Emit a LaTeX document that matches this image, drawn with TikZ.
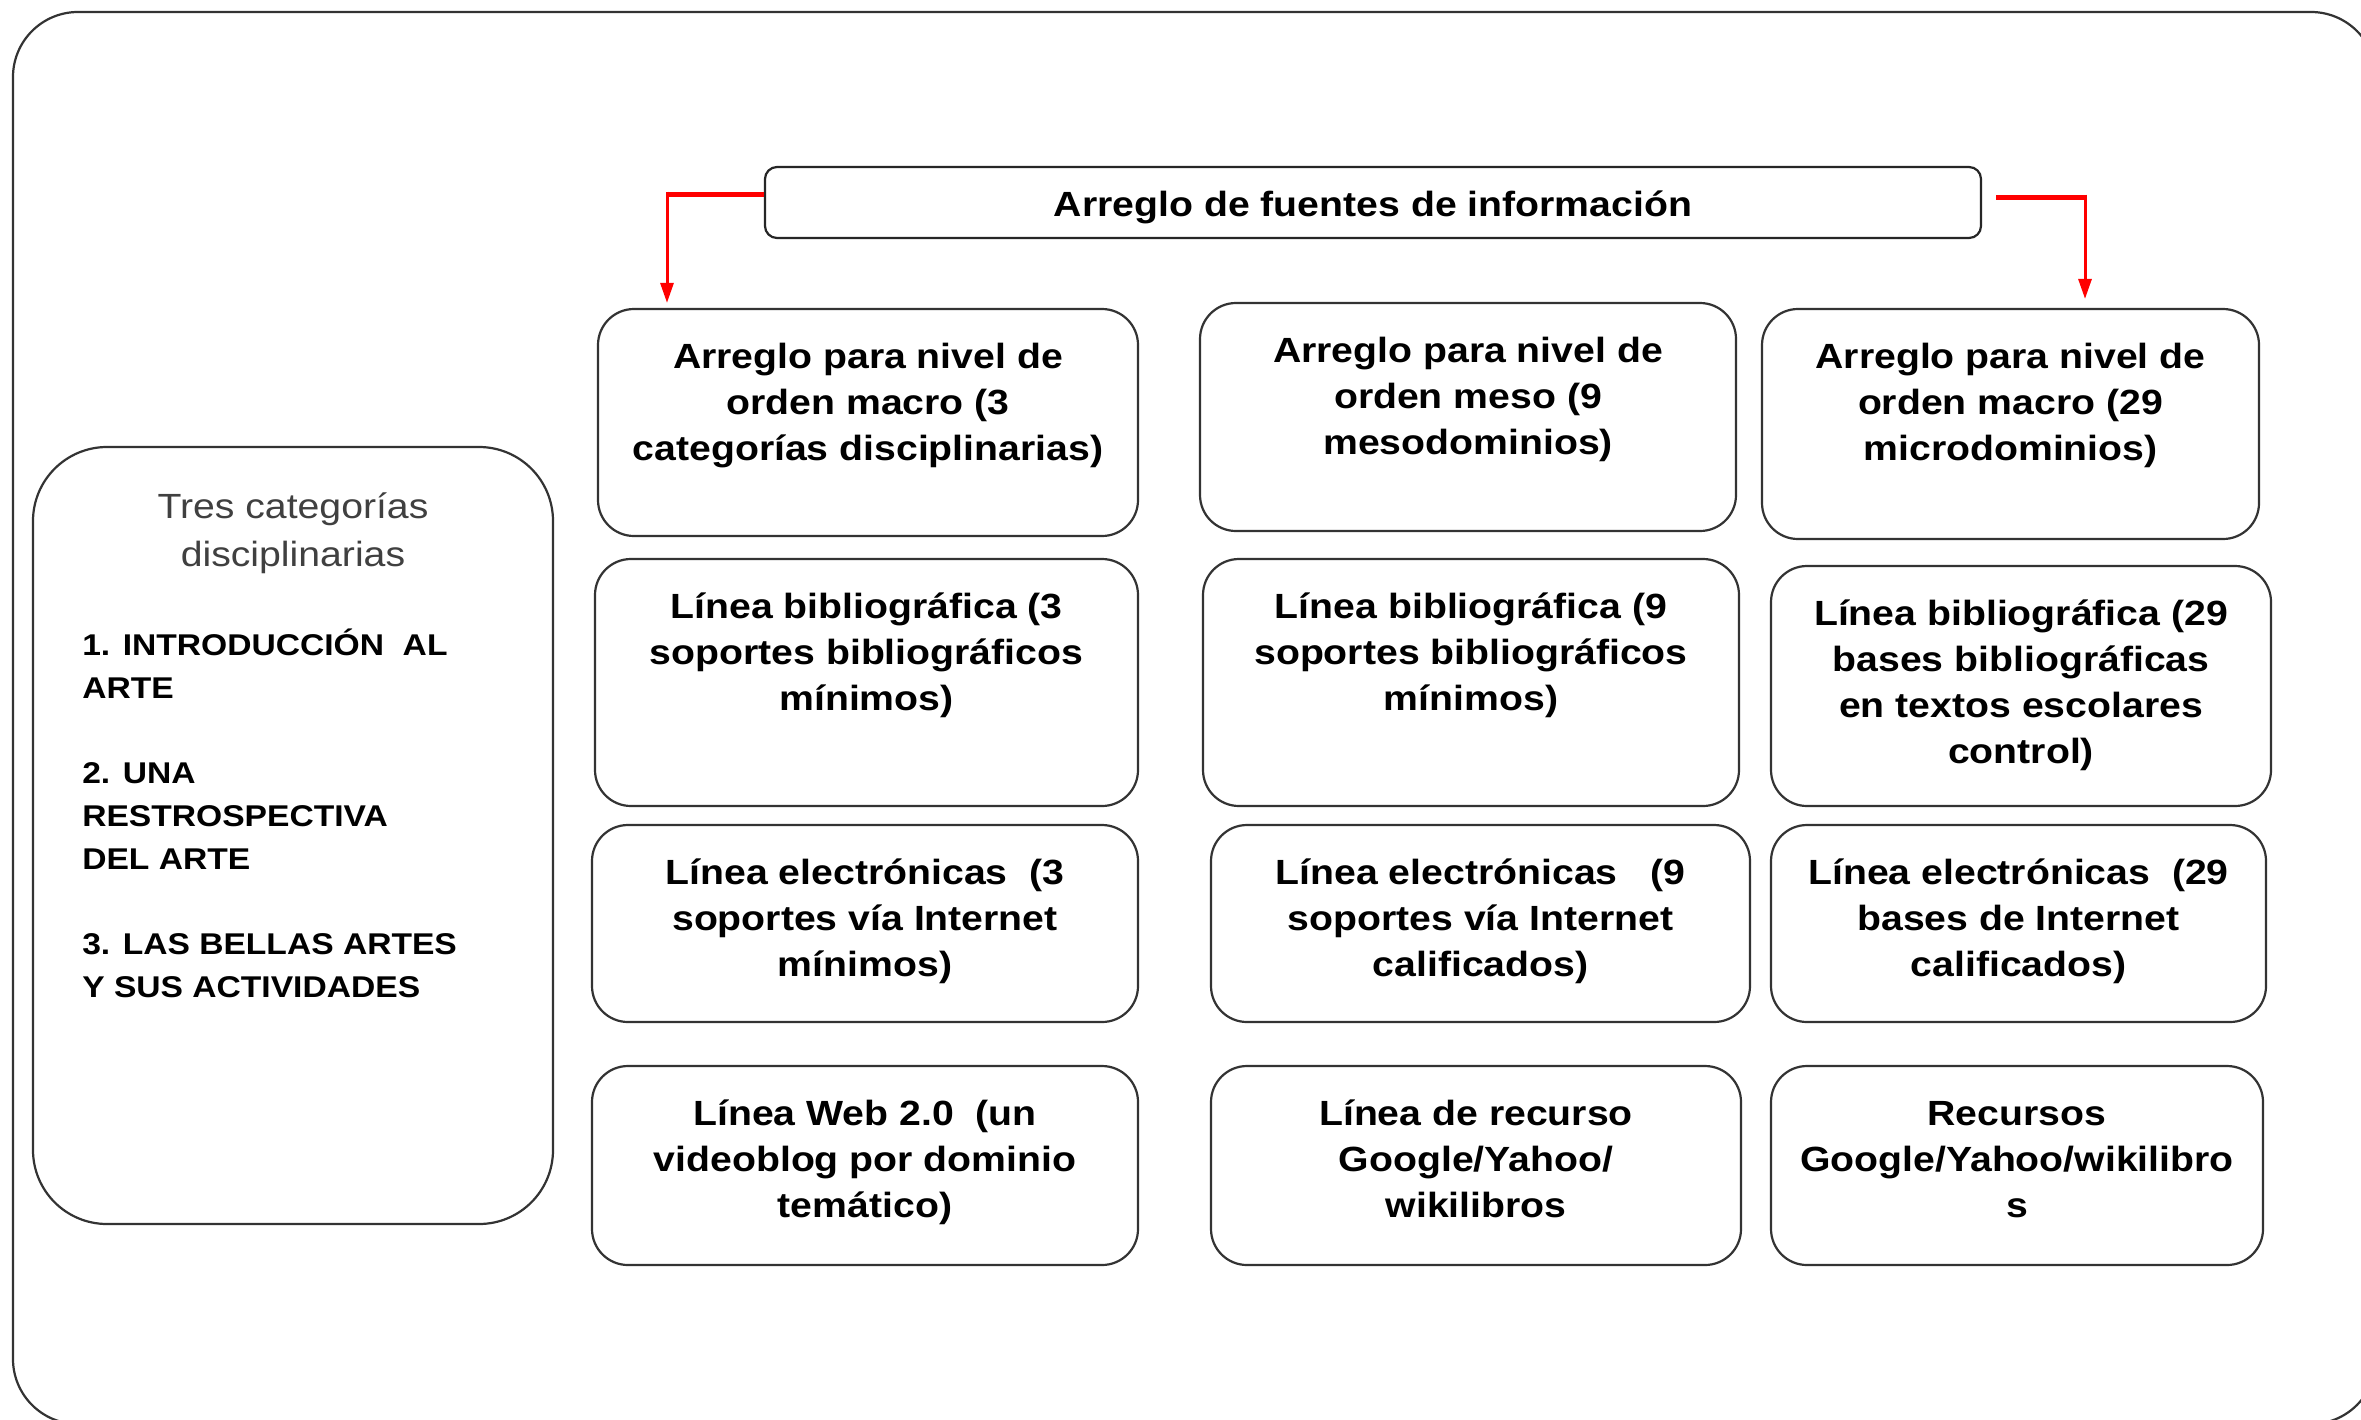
\documentclass[tikz,border=0pt]{standalone}
\usepackage{fontspec}
\setmainfont{Liberation Sans}[FakeStretch=1.12]
\usetikzlibrary{arrows.meta}
\tikzset{
  box/.style={draw=black!80, line width=1.1pt, rounded corners=18pt, inner sep=0pt, fill=white},
  boxtext/.style={font=\fontsize{17.5}{23}\selectfont\bfseries, align=center, anchor=north, inner sep=0pt},
  redline/.style={draw=red, line width=2.5pt},
  redarrow/.style={draw=red, line width=1.5pt, -{Triangle[length=10pt,width=6.5pt]}},
}
\newcommand{\fl}{\rule{0pt}{16pt}}
\begin{document}
\begin{tikzpicture}[x=0.5pt,y=-0.5pt]
\clip (0,0) rectangle (2361,1419);
\fill[white] (0,0) rectangle (2361,1419);
% outer frame
\draw[draw=black!80, line width=1.1pt, rounded corners=32.5pt] (13,12) rectangle (2376,1424);

% title
\node[draw=black!85, line width=1.1pt, rounded corners=6pt, inner sep=0pt,
      minimum width=608pt, minimum height=35.5pt, text height=18pt, text depth=3.7pt,
      font=\fontsize{17.5}{22.3}\selectfont\bfseries] (title) at (1373,202.5) {Arreglo de fuentes de información};

% left box
\node[box, rounded corners=37pt, minimum width=260pt, minimum height=388.5pt] (left) at (293,835.5) {};
\node[font=\fontsize{17.5}{24}\selectfont, text=black!75, align=center, anchor=north, inner sep=0pt]
  (lefthead) at ([yshift=-19.9pt]left.north) {\fl Tres categorías\\disciplinarias};
\node[font=\fontsize{15}{21.4}\selectfont\bfseries, align=left, anchor=north west, inner sep=0pt]
  (leftlist) at ([xshift=25pt,yshift=-88.5pt]left.north west)
  {\fl 1. INTRODUCCIÓN\ \ AL\\ARTE\\[21.4pt]2. UNA\\RESTROSPECTIVA\\DEL ARTE\\[21.4pt]3. LAS BELLAS ARTES\\Y SUS ACTIVIDADES};

% column 1
\node[box, minimum width=270pt, minimum height=113.5pt] (b11) at (868,422.5) {};
\node[box, minimum width=271.5pt, minimum height=123.5pt] (b12) at (866.5,682.5) {};
\node[box, minimum width=273pt, minimum height=98.5pt] (b13) at (865,923.5) {};
\node[box, minimum width=273pt, minimum height=99.5pt] (b14) at (865,1165.5) {};
% column 2
\node[box, minimum width=268pt, minimum height=114pt] (b21) at (1468,417) {};
\node[box, minimum width=268pt, minimum height=123.5pt] (b22) at (1471,682.5) {};
\node[box, minimum width=269.5pt, minimum height=98.5pt] (b23) at (1480.5,923.5) {};
\node[box, minimum width=265pt, minimum height=99.5pt] (b24) at (1476,1165.5) {};
% column 3
\node[box, minimum width=248.5pt, minimum height=115pt] (b31) at (2010.5,424) {};
\node[box, minimum width=250pt, minimum height=120pt] (b32) at (2021,686) {};
\node[box, minimum width=247.5pt, minimum height=98.5pt] (b33) at (2018.5,923.5) {};
\node[box, minimum width=246pt, minimum height=99.5pt] (b34) at (2017,1165.5) {};

% texts
\node[boxtext] (t11) at ([yshift=-14pt]b11.north) {\fl Arreglo para nivel de\\orden macro (3\\categorías disciplinarias)};
\node[boxtext] (t12) at ([yshift=-14pt]b12.north) {\fl Línea bibliográfica (3\\soportes bibliográficos\\mínimos)};
\node[boxtext] (t13) at ([yshift=-14pt]b13.north) {\fl Línea electrónicas\ \ (3\\soportes vía Internet\\mínimos)};
\node[boxtext] (t14) at ([yshift=-14pt]b14.north) {\fl Línea Web 2.0\ \ (un\\videoblog por dominio\\temático)};
\node[boxtext] (t21) at ([yshift=-14pt]b21.north) {\fl Arreglo para nivel de\\orden meso (9\\mesodominios)};
\node[boxtext] (t22) at ([yshift=-14pt]b22.north) {\fl Línea bibliográfica (9\\soportes bibliográficos\\mínimos)};
\node[boxtext] (t23) at ([yshift=-14pt]b23.north) {\fl Línea electrónicas\ \ \ (9\\soportes vía Internet\\calificados)};
\node[boxtext] (t24) at ([yshift=-14pt]b24.north) {\fl Línea de recurso\\Google/Yahoo/\\wikilibros};
\node[boxtext] (t31) at ([yshift=-14pt]b31.north) {\fl Arreglo para nivel de\\orden macro (29\\microdominios)};
\node[boxtext] (t32) at ([yshift=-14pt]b32.north) {\fl Línea bibliográfica (29\\bases bibliográficas\\en textos escolares\\control)};
\node[boxtext] (t33) at ([yshift=-14pt]b33.north) {\fl Línea electrónicas\ \ (29\\bases de Internet\\calificados)};
\node[boxtext] (t34) at ([yshift=-14pt]b34.north) {\fl Recursos\\Google/Yahoo/wikilibro\\s};

% red connectors
\coordinate (lk) at (667,194);
\coordinate (rk) at (2085,197);
\draw[redline] ([yshift=4.25pt]title.west) -- ([xshift=-0.75pt]lk);
\draw[redarrow] ([yshift=1.2pt]lk) -- ([yshift=2.5pt]lk |- b11.north);
\draw[redline] ([xshift=7pt,yshift=2.75pt]title.east) -- ([xshift=0.75pt]rk);
\draw[redarrow] ([yshift=1.2pt]rk) -- ([yshift=4.5pt]rk |- b31.north);
\end{tikzpicture}
\end{document}
